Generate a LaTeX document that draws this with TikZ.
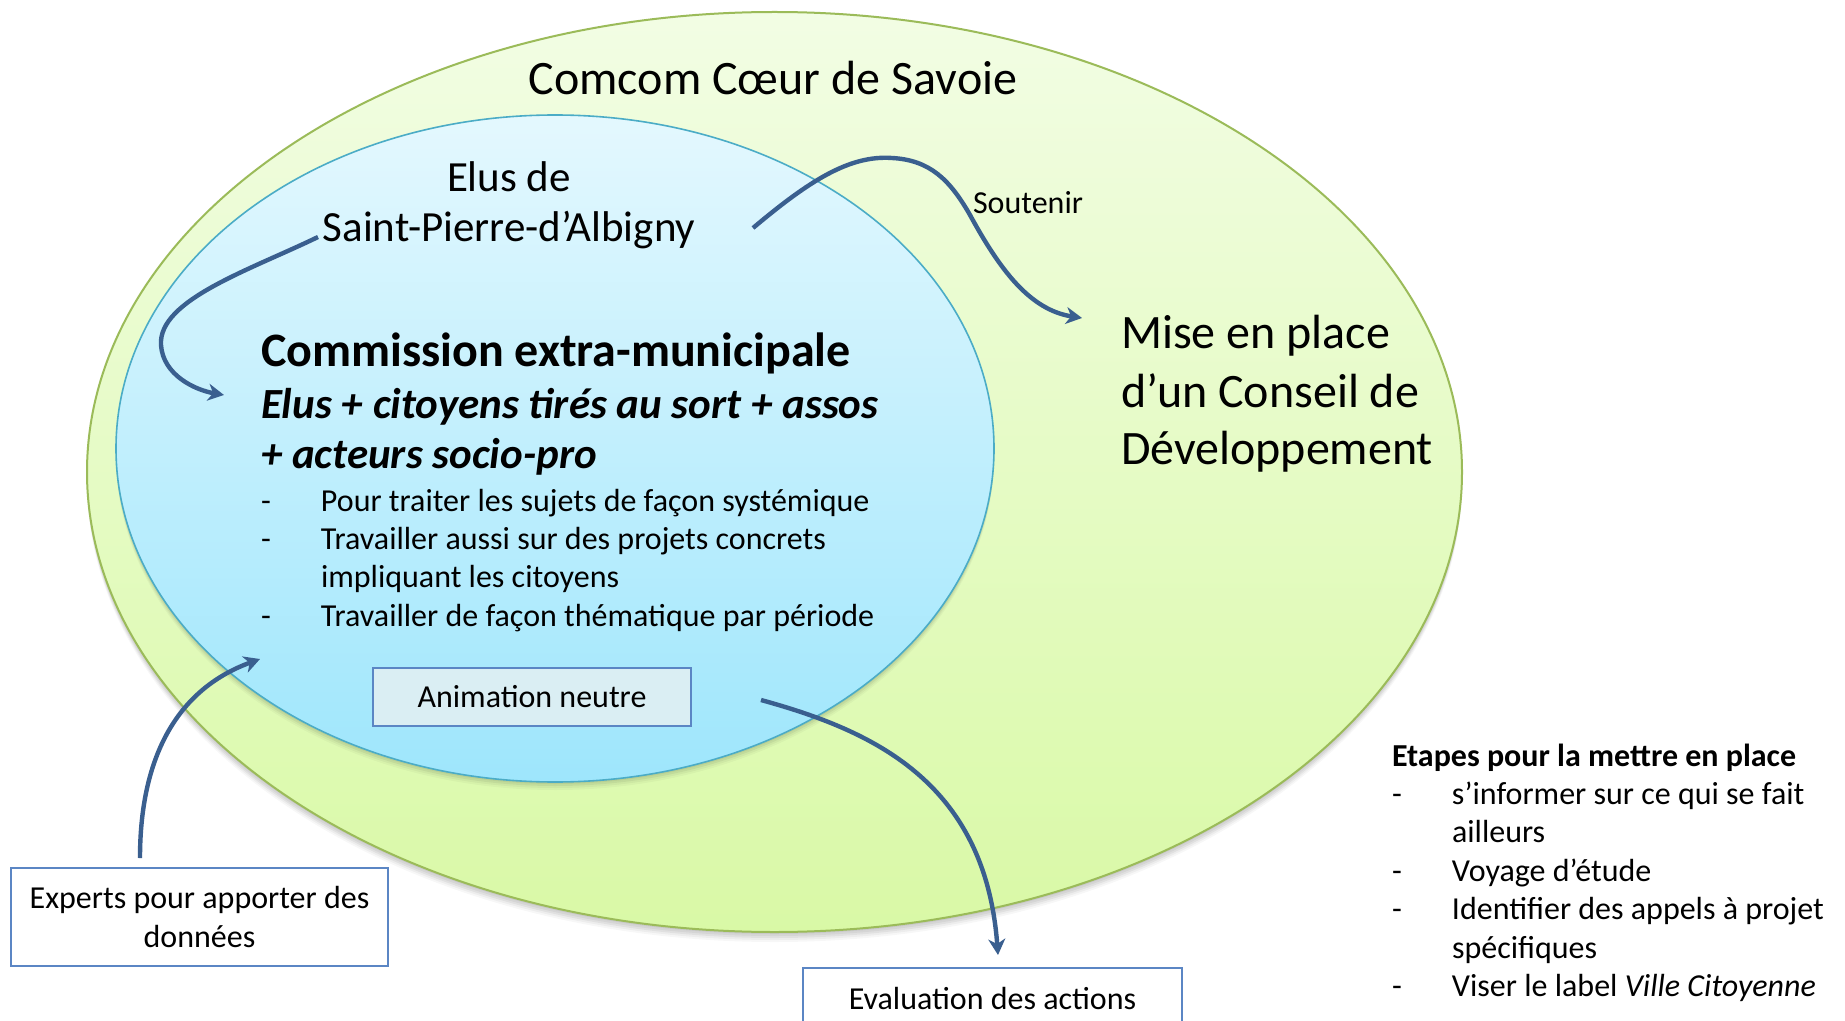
\documentclass[tikz,border=0pt]{standalone}
\usepackage{fontspec}
\setmainfont{Carlito}
\usetikzlibrary{arrows.meta}
\definecolor{outerTop}{HTML}{F2FDE4}
\definecolor{outerBot}{HTML}{D9F9A6}
\definecolor{outerLine}{HTML}{9BBB59}
\definecolor{innerTop}{HTML}{E4F8FE}
\definecolor{innerBot}{HTML}{9EE6FC}
\definecolor{innerLine}{HTML}{4BACC6}
\definecolor{boxLine}{HTML}{5B86C4}
\definecolor{animFill}{HTML}{DAEEF3}
\definecolor{arrowBlue}{HTML}{3A5F8F}
\newcommand\stackL[1]{\vtop{\halign{##\hfil\cr#1\crcr}}}
\newcommand\stackC[1]{\vtop{\halign{\hfil##\hfil\cr#1\crcr}}}
\begin{document}
\begin{tikzpicture}[x=0.5pt,y=-0.5pt,
  txt/.style={inner sep=0pt, outer sep=0pt},
  box/.style={draw=boxLine, line width=1pt, fill=white, inner sep=0pt, font=\fontsize{16}{19.2}\selectfont},
  flow/.style={draw=arrowBlue, line width=2.2pt, -{Stealth[length=8pt,width=8.5pt,inset=2.5pt]}}]
\useasboundingbox (0,0) rectangle (1845,1021);
\clip (0,0) rectangle (1845,1021);
\fill[white] (0,0) rectangle (1845,1021);
% outer ellipse with soft shadow
\foreach \s/\o in {2/0.05,4/0.05,6/0.05,8/0.04,10/0.03}
  \fill[black,opacity=\o] (774.5,472+\s) ellipse [x radius=343.75pt, y radius=230pt];
\shade[top color=outerTop, bottom color=outerBot, draw=outerLine, line width=1pt]
  (774.5,472) ellipse [x radius=343.75pt, y radius=230pt];
% inner ellipse with soft shadow
\foreach \s/\o in {2/0.05,4/0.05,6/0.04,8/0.03}
  \fill[black,opacity=\o] (555,448.5+\s) ellipse [x radius=219.5pt, y radius=166.75pt];
\shade[top color=innerTop, bottom color=innerBot, draw=innerLine, line width=0.8pt]
  (555,448.5) ellipse [x radius=219.5pt, y radius=166.75pt];

% texts
\node[txt, anchor=base, font=\fontsize{24}{29}\selectfont] (title) at (773,95) {Comcom Cœur de Savoie};
\node[txt, anchor=base, font=\fontsize{21.5}{25}\selectfont] (elus) at (509,192) {\stackC{Elus de\cr Saint-Pierre-d’Albigny}};
\node[txt, anchor=base west, font=\bfseries\fontsize{24}{27}\selectfont] (comm) at (261,366) {Commission extra-municipale};
\node[txt, anchor=base west, font=\bfseries\itshape\fontsize{21.5}{25}\selectfont] (compo) at (261,418) {\stackL{Elus + citoyens tirés au sort + assos\cr + acteurs socio-pro}};
\node[txt, anchor=base west, font=\fontsize{16}{19.2}\selectfont] (buls) at (261,511)
  {\stackL{\makebox[30pt][l]{-}Pour traiter les sujets de façon systémique\cr
   \makebox[30pt][l]{-}Travailler aussi sur des projets concrets\cr
   \hspace*{30pt}impliquant les citoyens\cr
   \makebox[30pt][l]{-}Travailler de façon thématique par période}};
\node[txt, anchor=base west, font=\fontsize{24}{29}\selectfont] (mise) at (1121,349) {\stackL{Mise en place\cr d’un Conseil de\cr Développement}};
\node[txt, anchor=base west, font=\fontsize{16}{19}\selectfont] (sout) at (973,214) {Soutenir};
\node[txt, anchor=base west, font=\fontsize{16}{19.2}\selectfont] (etapes) at (1392,766)
  {\stackL{\textbf{Etapes pour la mettre en place}\cr
   \makebox[30pt][l]{-}s’informer sur ce qui se fait\cr
   \hspace*{30pt}ailleurs\cr
   \makebox[30pt][l]{-}Voyage d’étude\cr
   \makebox[30pt][l]{-}Identifier des appels à projet\cr
   \hspace*{30pt}spécifiques\cr
   \makebox[30pt][l]{-}Viser le label \textit{Ville Citoyenne}}};

% boxes
\node[box, fill=animFill, minimum width=159pt, minimum height=29pt] (anim) at (532,697) {Animation neutre};
\node[box, minimum width=188.5pt, minimum height=49pt] (experts) at (199.5,917) {\stackC{Experts pour apporter des\cr données}};
\node[box, minimum width=189.5pt, minimum height=30pt] (eval) at (992.5,998) {Evaluation des actions};

% connectors
\coordinate (e1) at (318,237); \coordinate (e2) at (224,395);
\draw[flow] (e1) .. controls (250,270) and (158,300) .. (161,345) .. controls (163,375) and (195,390) .. (e2);
\coordinate (s1) at (753,228); \coordinate (s2) at (1082,318);
\draw[flow] (s1) .. controls (810,180) and (850,155) .. (892,158) .. controls (930,160) and (950,180) .. (970,215) .. controls (1000,270) and (1030,310) .. (s2);
\coordinate (x1) at (140,858); \coordinate (x2) at (260,659);
\draw[flow] (x1) .. controls (140,760) and (175,690) .. (x2);
\coordinate (v1) at (761,700); \coordinate (v2) at (998,955);
\draw[flow] (v1) .. controls (870,730) and (985,780) .. (v2);
\end{tikzpicture}
\end{document}
